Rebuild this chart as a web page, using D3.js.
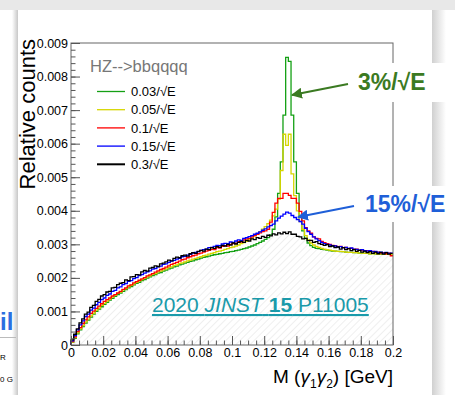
<!DOCTYPE html>
<html lang="en">
<head>
<meta charset="UTF-8">
<title>HZ --> bbqqqq diphoton mass</title>
<script src="https://d3js.org/d3.v7.min.js"></script>
<style>
  body { margin: 0; background: #fff; }
  svg text { font-family: "Liberation Sans", Arial, Helvetica, sans-serif; }
</style>
</head>
<body>
<svg id="chart" width="455" height="395"></svg>
<script>
// histogram contents, 120 bins from 0 to 0.2 GeV, in units of 1e-5 (relative counts)
const nBins = 120;
const xMax = 0.2;

const res003 = [8,20,33,45,55,65,74,83,92,100,107,114,121,127,134,139,145,150,155,160,165,170,174,179,184,187,192,195,199,203,207,210,214,216,220,223,227,229,233,235,239,241,244,246,249,251,254,256,259,261,263,265,267,269,270,272,273,275,276,278,279,281,283,285,287,289,292,295,298,302,306,310,315,320,328,345,382,452,546,685,857,845,685,546,452,381,340,318,304,296,291,288,287,285,284,283,281,280,280,279,278,278,277,276,276,275,275,274,274,273,273,272,273,272,272,271,272,271,271,270];
const res005 = [9,22,36,48,58,69,77,87,95,104,110,118,124,131,137,143,148,154,158,164,168,173,178,182,187,191,195,199,203,206,211,213,218,220,224,227,231,233,237,239,243,245,248,251,253,256,258,261,263,266,268,271,273,275,278,280,282,285,287,290,292,295,298,302,305,309,314,319,325,331,338,345,353,362,372,385,405,435,520,628,595,628,510,445,400,368,345,326,313,304,298,294,291,288,286,284,283,281,280,279,279,278,277,276,276,275,275,274,274,273,273,272,272,272,271,271,271,270,271,270];
const res010 = [10,24,40,52,64,75,84,94,101,109,116,123,130,135,140,146,150,155,160,166,170,176,179,185,189,193,197,201,206,209,213,217,221,225,228,232,236,240,243,246,250,254,256,260,263,266,268,272,274,277,280,282,285,284,290,289,294,296,295,300,302,303,308,307,313,316,318,322,326,330,334,338,340,345,366,395,423,437,437,452,452,446,437,437,423,398,370,350,340,333,322,318,316,309,305,302,300,297,296,293,294,290,291,287,288,285,286,282,283,280,281,278,279,276,277,274,275,272,274,266];
const res015 = [12,28,45,60,72,85,92,104,110,120,127,135,140,148,152,160,163,170,173,180,183,190,192,198,201,207,210,214,218,221,226,228,233,235,240,242,246,250,252,256,258,263,264,268,270,274,276,278,282,284,286,290,291,294,297,296,301,303,302,307,306,310,313,312,318,320,323,326,330,333,337,342,346,352,356,360,370,378,384,390,396,393,386,380,374,368,360,348,338,330,322,316,311,306,302,300,298,296,295,292,293,290,291,288,289,286,285,283,284,281,280,281,278,279,276,277,274,276,273,274];
const res030 = [15,32,48,66,78,92,98,112,118,130,136,146,150,158,160,170,172,180,184,186,194,192,203,204,210,209,218,222,220,229,231,236,234,242,244,248,253,251,258,262,260,266,268,265,272,275,273,279,282,280,286,284,290,288,293,291,297,295,300,298,304,301,306,309,306,312,310,316,314,320,318,324,321,327,325,331,328,334,331,336,332,337,330,330,324,322,316,318,311,312,306,308,302,300,297,299,293,295,290,292,286,290,284,287,281,284,279,282,277,280,275,278,273,277,272,276,271,275,271,273];

const seriesNames = ["0.03/\u221AE", "0.05/\u221AE", "0.1/\u221AE", "0.15/\u221AE", "0.3/\u221AE"];
const seriesColors = ["#14a014", "#d6d600", "#ff0000", "#0000ff", "#000000"];
const seriesData = [res003, res005, res010, res015, res030];

const yTicks = [0, 0.001, 0.002, 0.003, 0.004, 0.005, 0.006, 0.007, 0.008, 0.009];
const yTickLabels = ["0", "0.001", "0.002", "0.003", "0.004", "0.005", "0.006", "0.007", "0.008", "0.009"];
const xTicks = [0, 0.02, 0.04, 0.06, 0.08, 0.1, 0.12, 0.14, 0.16, 0.18, 0.2];
const xTickLabels = ["0", "0.02", "0.04", "0.06", "0.08", "0.1", "0.12", "0.14", "0.16", "0.18", "0.2"];

const svg = d3.select("#chart");
const frame = { left: 71, right: 393, top: 43, bottom: 345 };

const x = d3.scaleLinear().domain([0, xMax]).range([frame.left, frame.right]);
const y = d3.scaleLinear().domain([0, 0.009]).range([frame.bottom, frame.top]);

// slide decorations around the plot
svg.append("rect").attr("x", 0).attr("y", 0).attr("width", 455).attr("height", 395).attr("fill", "#fff");
svg.append("rect").attr("x", 0).attr("y", 0).attr("width", 455).attr("height", 10).attr("fill", "#e8e8e8");
const defs = svg.append("defs");
const shadeL = defs.append("linearGradient").attr("id", "shadeL");
shadeL.append("stop").attr("offset", "0%").attr("stop-color", "#fff");
shadeL.append("stop").attr("offset", "100%").attr("stop-color", "#c8c8c8");
const shadeR = defs.append("linearGradient").attr("id", "shadeR");
shadeR.append("stop").attr("offset", "0%").attr("stop-color", "#d0d0d0");
shadeR.append("stop").attr("offset", "100%").attr("stop-color", "#fff");
svg.append("rect").attr("x", 12).attr("y", 10).attr("width", 6).attr("height", 385).attr("fill", "url(#shadeL)");
svg.append("rect").attr("x", 432).attr("y", 10).attr("width", 14).attr("height", 385).attr("fill", "url(#shadeR)");
svg.append("text").attr("x", 0).attr("y", 330).attr("fill", "#2b6fe0")
  .attr("font-size", 24).attr("font-weight", "bold").text("il");
svg.append("line").attr("x1", 0).attr("x2", 16).attr("y1", 337.5).attr("y2", 337.5).attr("stroke", "#bbb");
svg.append("text").attr("x", 0).attr("y", 360).attr("font-size", 8).text("R");
svg.append("text").attr("x", 0).attr("y", 382).attr("font-size", 8).text("0 G");

// hatched area under the lowest histogram
const hatch = defs.append("pattern").attr("id", "hatch")
  .attr("patternUnits", "userSpaceOnUse").attr("width", 5).attr("height", 5)
  .attr("patternTransform", "rotate(45)");
hatch.append("line").attr("x1", 0).attr("y1", 0).attr("x2", 0).attr("y2", 5)
  .attr("stroke", "#d8d8d8").attr("stroke-width", 0.8);

const binW = xMax / nBins;
const toPoints = vals => {
  const pts = [[0, 0]];
  vals.forEach((v, i) => pts.push([i * binW, v * 1e-5]));
  pts.push([xMax, vals[vals.length - 1] * 1e-5]);
  return pts;
};
const lowest = res003.map((v, i) => d3.min(seriesData, s => s[i]));

const area = d3.area().curve(d3.curveStepAfter)
  .x(d => x(d[0])).y0(y(0)).y1(d => y(d[1]));
svg.append("path").datum(toPoints(lowest)).attr("d", area).attr("fill", "url(#hatch)");

const line = d3.line().curve(d3.curveStepAfter).x(d => x(d[0])).y(d => y(d[1]));
seriesData.forEach((s, k) => {
  svg.append("path").datum(toPoints(s)).attr("d", line)
    .attr("fill", "none").attr("stroke", seriesColors[k]).attr("stroke-width", 1.3);
});

// frame
svg.append("rect").attr("x", frame.left).attr("y", frame.top)
  .attr("width", frame.right - frame.left).attr("height", frame.bottom - frame.top)
  .attr("fill", "none").attr("stroke", "#666").attr("stroke-width", 1);

// y axis, ticks inside
const yMinor = d3.range(0, 0.00901, 0.0002);
svg.append("g").attr("transform", `translate(${frame.left},0)`)
  .call(d3.axisLeft(y).tickValues(yMinor).tickSizeInner(-4.5).tickSizeOuter(0).tickFormat(""))
  .call(g => g.select(".domain").remove())
  .call(g => g.selectAll("line").attr("stroke", "#555"));
svg.append("g").attr("transform", `translate(${frame.left},0)`)
  .call(d3.axisLeft(y).tickValues(yTicks).tickSizeInner(-9).tickSizeOuter(0).tickPadding(3)
    .tickFormat((d, i) => yTickLabels[i]))
  .call(g => g.select(".domain").remove())
  .call(g => g.selectAll("line").attr("stroke", "#555"))
  .call(g => g.selectAll("text").attr("font-size", 12.5).attr("fill", "#000")
    .attr("font-family", "Liberation Sans, Arial, sans-serif"));

// x axis, ticks inside
const xMinor = d3.range(0, 0.2001, 0.005);
svg.append("g").attr("transform", `translate(0,${frame.bottom})`)
  .call(d3.axisBottom(x).tickValues(xMinor).tickSizeInner(-4.5).tickSizeOuter(0).tickFormat(""))
  .call(g => g.select(".domain").remove())
  .call(g => g.selectAll("line").attr("stroke", "#555"));
svg.append("g").attr("transform", `translate(0,${frame.bottom})`)
  .call(d3.axisBottom(x).tickValues(xTicks).tickSizeInner(-9).tickSizeOuter(0).tickPadding(3)
    .tickFormat((d, i) => xTickLabels[i]))
  .call(g => g.select(".domain").remove())
  .call(g => g.selectAll("line").attr("stroke", "#555"))
  .call(g => g.selectAll("text").attr("font-size", 12.5).attr("fill", "#000")
    .attr("font-family", "Liberation Sans, Arial, sans-serif"));

// axis titles
svg.append("text").attr("transform", "translate(35,39) rotate(-90)")
  .attr("text-anchor", "end").attr("font-size", 22).text("Relative counts");
const xt = svg.append("text").attr("x", frame.right).attr("y", 383)
  .attr("text-anchor", "end").attr("font-size", 19);
xt.append("tspan").text("M (");
xt.append("tspan").attr("font-style", "italic").text("\u03B3");
xt.append("tspan").attr("font-size", 12).attr("dy", 5).text("1");
xt.append("tspan").attr("font-style", "italic").attr("dy", -5).text("\u03B3");
xt.append("tspan").attr("font-size", 12).attr("dy", 5).text("2");
xt.append("tspan").attr("dy", -5).text(") [GeV]");

// legend
svg.append("text").attr("x", 90).attr("y", 72).attr("font-size", 16.5).attr("fill", "#777")
  .text("HZ-->bbqqqq");
seriesNames.forEach((name, k) => {
  const ly = 91.5 + k * 18.2;
  svg.append("line").attr("x1", 97).attr("x2", 125).attr("y1", ly).attr("y2", ly)
    .attr("stroke", seriesColors[k]).attr("stroke-width", k === 4 ? 2 : 1.3);
  svg.append("text").attr("x", 131).attr("y", ly).attr("dy", "0.36em")
    .attr("font-size", 13).text(name);
});

// reference
const ref = svg.append("text").attr("x", 152).attr("y", 312).attr("font-size", 21)
  .attr("fill", "#1a9aaa").attr("text-decoration", "underline");
ref.append("tspan").text("2020 ");
ref.append("tspan").attr("font-style", "italic").text("JINST");
ref.append("tspan").text(" ");
ref.append("tspan").attr("font-weight", "bold").text("15");
ref.append("tspan").text(" P11005");

// annotations
const addArrow = (id, color) => {
  defs.append("marker").attr("id", id).attr("viewBox", "0 0 10 10")
    .attr("refX", 9).attr("refY", 5).attr("markerWidth", 5).attr("markerHeight", 5)
    .attr("markerUnits", "strokeWidth").attr("orient", "auto")
    .append("path").attr("d", "M0,0L10,5L0,10z").attr("fill", color);
};
addArrow("arrG", "#3b7a22");
addArrow("arrB", "#1f5fd8");

svg.append("rect").attr("x", 346).attr("y", 63).attr("width", 109).attr("height", 39).attr("fill", "#fff");
svg.append("text").attr("x", 358).attr("y", 90).attr("font-size", 23).attr("font-weight", "bold")
  .attr("fill", "#3b7a22").text("3%/\u221AE");
svg.append("line").attr("x1", 348).attr("y1", 84).attr("x2", 292).attr("y2", 95)
  .attr("stroke", "#3b7a22").attr("stroke-width", 2.2).attr("marker-end", "url(#arrG)");

svg.append("rect").attr("x", 356).attr("y", 186).attr("width", 99).attr("height", 36).attr("fill", "#fff");
svg.append("text").attr("x", 365).attr("y", 212).attr("font-size", 23).attr("font-weight", "bold")
  .attr("fill", "#1f5fd8").text("15%/\u221AE");
svg.append("line").attr("x1", 354).attr("y1", 206).attr("x2", 298).attr("y2", 217)
  .attr("stroke", "#1f5fd8").attr("stroke-width", 2.2).attr("marker-end", "url(#arrB)");
</script>
</body>
</html>
